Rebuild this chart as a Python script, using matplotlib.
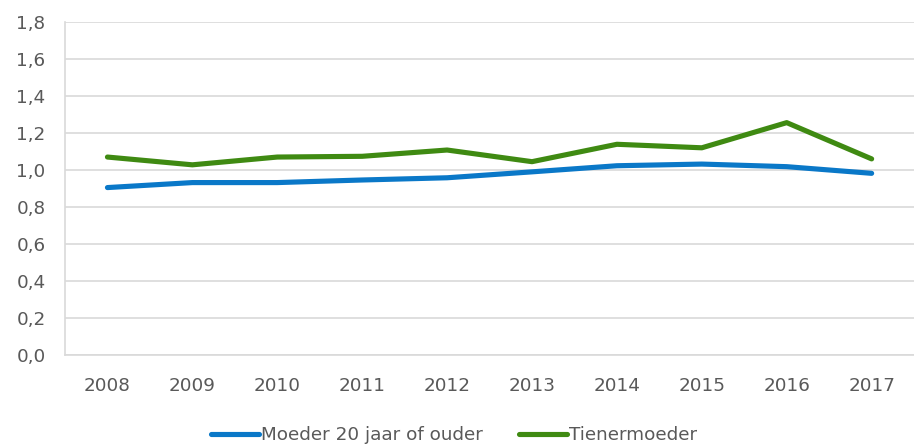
import matplotlib.pyplot as plt
from matplotlib.ticker import FuncFormatter

years = [2008, 2009, 2010, 2011, 2012, 2013, 2014, 2015, 2016, 2017]
moeder_20_plus = [0.905, 0.932, 0.932, 0.946, 0.958, 0.990, 1.023, 1.032, 1.018, 0.982]
tienermoeder = [1.070, 1.028, 1.070, 1.074, 1.108, 1.045, 1.139, 1.120, 1.256, 1.060]

BLUE = "#0a78c8"
GREEN = "#3f8a12"
GRID = "#d9d9d9"
TEXT = "#595959"

plt.rcParams["font.family"] = ["DejaVu Sans"]

fig = plt.figure(figsize=(9.14, 4.45), dpi=100)
ax = fig.add_axes([0.0711, 0.2022, 0.929, 0.7484])

x = list(range(len(years)))
ax.plot(x, moeder_20_plus, color=BLUE, lw=3.7, solid_capstyle="round",
        solid_joinstyle="round", label="Moeder 20 jaar of ouder")
ax.plot(x, tienermoeder, color=GREEN, lw=3.7, solid_capstyle="round",
        solid_joinstyle="round", label="Tienermoeder")

ax.set_xlim(-0.5, len(years) - 0.5)
ax.set_ylim(0, 1.8)
ax.set_yticks([i * 0.2 for i in range(10)])
ax.yaxis.set_major_formatter(FuncFormatter(lambda v, p: f"{v:.1f}".replace(".", ",")))
ax.set_xticks(x)
ax.set_xticklabels([str(y) for y in years])

ax.grid(axis="y", color=GRID, lw=1.2)
ax.set_axisbelow(True)
for side in ["top", "right"]:
    ax.spines[side].set_visible(False)
for side in ["left", "bottom"]:
    ax.spines[side].set_color(GRID)
    ax.spines[side].set_linewidth(1.2)

ax.tick_params(axis="both", length=0, labelsize=13.2, colors=TEXT)
ax.tick_params(axis="y", pad=14)
ax.tick_params(axis="x", pad=16)

fig.legend(loc="lower center", bbox_to_anchor=(0.497, -0.035), ncol=2, frameon=False,
           fontsize=13.2, labelcolor=TEXT, handlelength=2.6, handletextpad=0.1,
           columnspacing=2.0)

fig.savefig("out.png", dpi=100)
